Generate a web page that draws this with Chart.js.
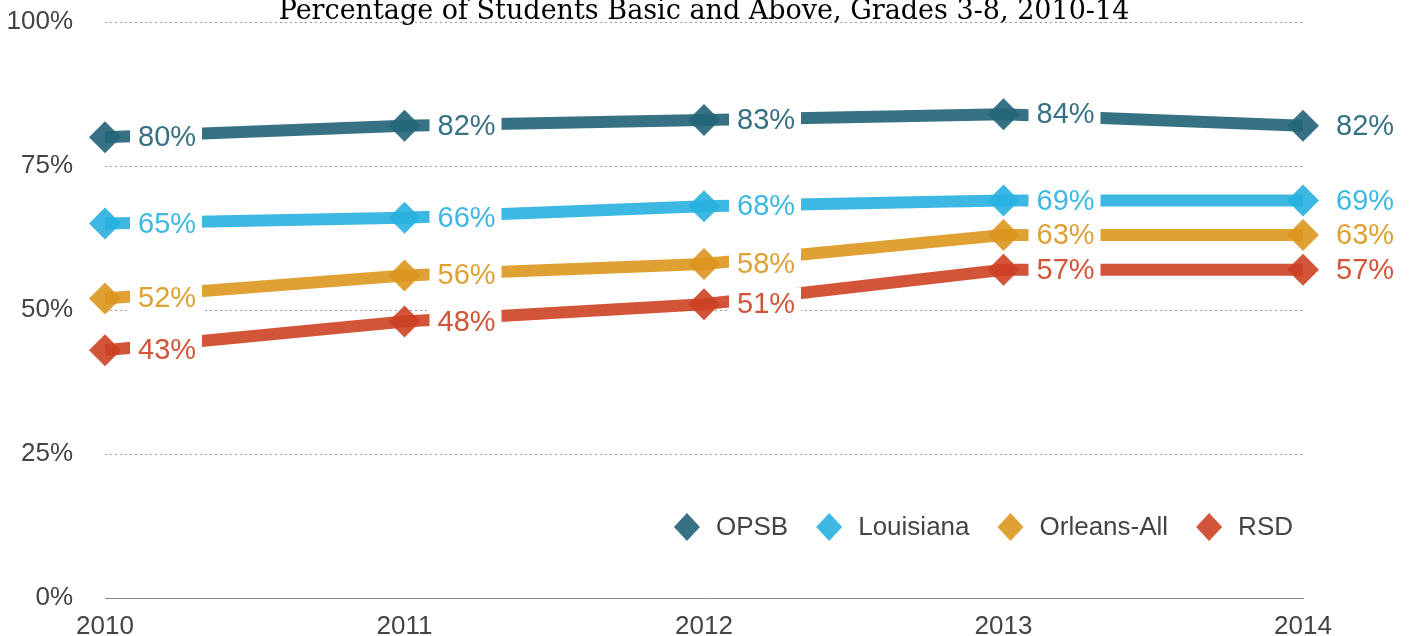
<!DOCTYPE html>
<html lang="en">
<head>
  <meta charset="UTF-8">
  <title>Percentage of Students Basic and Above</title>
  <style>
    body {
      margin: 0;
      background: #fff;
    }
  </style>
  <script src="https://cdn.jsdelivr.net/npm/chart.js"></script>
</head>
<body>
  <canvas id="chart" width="1413" height="636"></canvas>
  <script>
    const years = ['2010', '2011', '2012', '2013', '2014'];
    const opsb = [80, 82, 83, 84, 82];
    const louisiana = [65, 66, 68, 69, 69];
    const orleansAll = [52, 56, 58, 63, 63];
    const rsd = [43, 48, 51, 57, 57];
    const yTicks = [0, 25, 50, 75, 100];

    const titleText = 'Percentage of Students Basic and Above, Grades 3-8, 2010-14';

    function series(label, data, color) {
      return {
        label,
        data,
        borderColor: color,
        backgroundColor: color,
        borderWidth: 12,
        pointStyle: 'rectRot',
        pointRadius: 16,
        pointHoverRadius: 16,
        pointBorderWidth: 0,
        tension: 0
      };
    }

    // title on top, partly cut off like the original
    const titlePlugin = {
      id: 'topTitle',
      afterDraw(chart) {
        const ctx = chart.ctx;
        const area = chart.chartArea;
        ctx.save();
        ctx.font = '27px "DejaVu Serif"';
        ctx.fillStyle = '#000';
        ctx.textAlign = 'center';
        ctx.textBaseline = 'alphabetic';
        ctx.fillText(titleText, (area.left + area.right) / 2, 19);
        ctx.restore();
      }
    };

    // value labels to the right of each point, with white box behind
    const valueLabels = {
      id: 'valueLabels',
      afterDatasetsDraw(chart) {
        const ctx = chart.ctx;
        ctx.save();
        ctx.font = '29px "Liberation Sans", Arial, sans-serif';
        ctx.textBaseline = 'middle';
        ctx.textAlign = 'left';
        chart.data.datasets.forEach((ds, i) => {
          const meta = chart.getDatasetMeta(i);
          meta.data.forEach((pt, j) => {
            ctx.fillStyle = '#fff';
            ctx.fillRect(pt.x + 25, pt.y - 17, 72, 34);
            ctx.fillStyle = ds.borderColor;
            ctx.fillText(ds.data[j] + '%', pt.x + 33, pt.y + 1);
          });
        });
        ctx.restore();
      }
    };

    // legend inside the plot, bottom right
    const insideLegend = {
      id: 'insideLegend',
      afterDraw(chart) {
        const ctx = chart.ctx;
        const area = chart.chartArea;
        const y = 527;
        ctx.save();
        ctx.font = '26px "Liberation Sans", Arial, sans-serif';
        ctx.textBaseline = 'middle';
        const items = chart.data.datasets.map(ds => ({
          label: ds.label,
          color: ds.borderColor,
          w: ctx.measureText(ds.label).width
        }));
        const total = items.reduce((s, it) => s + 29 + it.w, 0) + 41 * (items.length - 1) + 13;
        let x = area.right - 10 - total + 13;
        items.forEach(it => {
          ctx.fillStyle = it.color;
          ctx.beginPath();
          ctx.moveTo(x, y - 14);
          ctx.lineTo(x + 13, y);
          ctx.lineTo(x, y + 14);
          ctx.lineTo(x - 13, y);
          ctx.closePath();
          ctx.fill();
          ctx.fillStyle = '#444';
          ctx.fillText(it.label, x + 29, y + 1);
          x += 29 + it.w + 41;
        });
        ctx.restore();
      }
    };

    new Chart(document.getElementById('chart'), {
      type: 'line',
      data: {
        labels: years,
        datasets: [
          series('OPSB', opsb, 'rgba(38, 102, 122, 0.92)'),
          series('Louisiana', louisiana, 'rgba(40, 176, 224, 0.9)'),
          series('Orleans-All', orleansAll, 'rgba(220, 150, 30, 0.9)'),
          series('RSD', rsd, 'rgba(205, 65, 35, 0.9)')
        ]
      },
      options: {
        responsive: false,
        animation: false,
        layout: { padding: { top: 22, right: 110, left: 0, bottom: 0 } },
        plugins: {
          legend: { display: false },
          tooltip: { enabled: false }
        },
        scales: {
          x: {
            offset: false,
            grid: { display: false, drawTicks: false },
            border: { display: true, color: '#888', width: 1 },
            ticks: {
              color: '#444',
              font: { family: '"Liberation Sans", Arial, sans-serif', size: 26 },
              padding: 13,
              maxRotation: 0
            },
            afterFit(scale) { scale.height = 38; }
          },
          y: {
            min: 0,
            max: 100,
            afterBuildTicks(scale) { scale.ticks = yTicks.map(v => ({ value: v })); },
            grid: {
              drawTicks: true,
              tickLength: 32,
              tickColor: 'rgba(0,0,0,0)',
              color: ctx => ctx.tick && ctx.tick.value === 0 ? 'rgba(0,0,0,0)' : '#999',
              lineWidth: 1
            },
            border: { display: false, dash: [2, 3] },
            ticks: {
              color: '#444',
              font: { family: '"Liberation Sans", Arial, sans-serif', size: 26 },
              padding: 0,
              callback: v => v + '%'
            },
            afterFit(scale) { scale.width = 105; }
          }
        }
      },
      plugins: [titlePlugin, valueLabels, insideLegend]
    });
  </script>
</body>
</html>
